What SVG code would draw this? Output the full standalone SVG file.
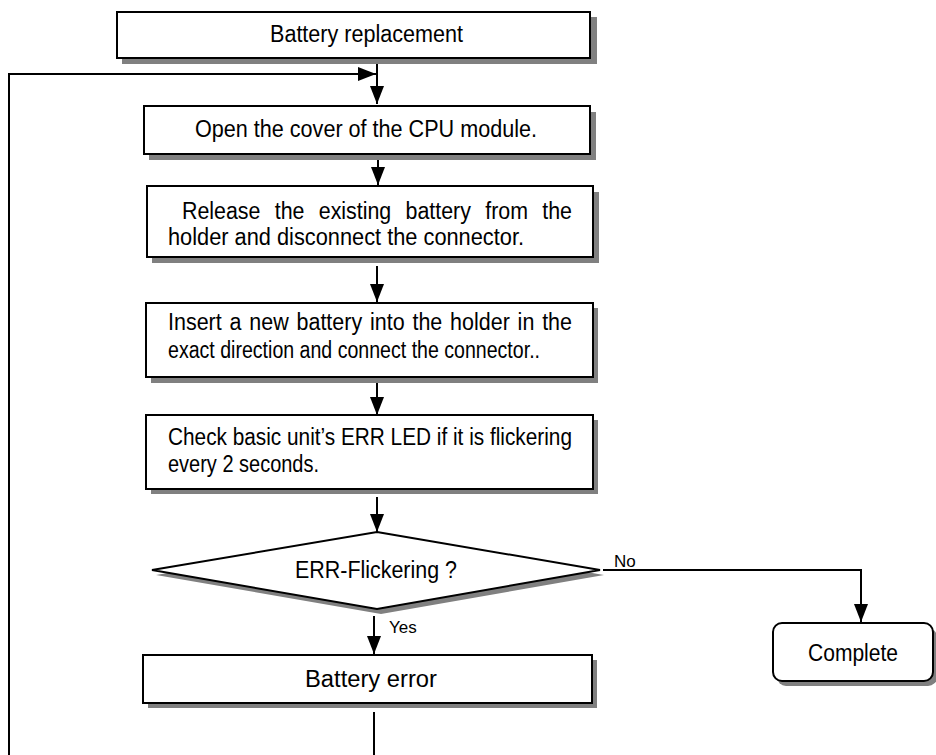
<svg xmlns="http://www.w3.org/2000/svg" width="936" height="755" viewBox="0 0 936 755">
<defs>
<style>
.box{fill:#fff;stroke:#000;stroke-width:2}
.sh{fill:#808080;stroke:none}
.t{font-family:"Liberation Sans",Arial,sans-serif;font-size:23px;fill:#000}
.s{font-family:"Liberation Sans",Arial,sans-serif;font-size:17px;fill:#000}
.ln{fill:none;stroke:#000;stroke-width:2}
</style>
<marker id="ah" viewBox="0 0 18 14" refX="18" refY="7" markerWidth="18" markerHeight="14" orient="auto" markerUnits="userSpaceOnUse"><path d="M0,0 L18,7 L0,14 z" fill="#000"/></marker>
</defs>
<rect width="936" height="755" fill="#fff"/>
<g id="connectors">
<path class="ln" d="M374,712 V760 H9 V74 H376" marker-end="url(#ah)"/>
<path class="ln" d="M377,58 V104" marker-end="url(#ah)"/>
<path class="ln" d="M378,160 V185" marker-end="url(#ah)"/>
<path class="ln" d="M377,266 V302" marker-end="url(#ah)"/>
<path class="ln" d="M377,383 V415" marker-end="url(#ah)"/>
<path class="ln" d="M377,497 V532" marker-end="url(#ah)"/>
<path class="ln" d="M374,616 V654" marker-end="url(#ah)"/>
<path class="ln" d="M603,570 H861 V622" marker-end="url(#ah)"/>
<text class="s" x="614" y="567">No</text>
<text class="s" x="389" y="633">Yes</text>
</g>
<g id="n1">
<rect class="sh" x="122" y="17" width="475" height="47"/>
<rect class="box" x="117" y="12" width="473" height="46"/>
<text class="t" x="270" y="42" textLength="193" lengthAdjust="spacingAndGlyphs">Battery replacement</text>
</g>
<g id="n2">
<rect class="sh" x="149" y="112" width="447" height="48"/>
<rect class="box" x="144" y="106" width="446" height="48"/>
<text class="t" x="195" y="137" textLength="342" lengthAdjust="spacingAndGlyphs">Open the cover of the CPU module.</text>
</g>
<g id="n3">
<rect class="sh" x="152" y="192" width="447" height="71"/>
<rect class="box" x="147" y="186" width="446" height="71"/>
<text class="t" x="182" y="219" textLength="390" lengthAdjust="spacingAndGlyphs" word-spacing="9">Release the existing battery from the</text>
<text class="t" x="168" y="245" textLength="356" lengthAdjust="spacingAndGlyphs">holder and disconnect the connector.</text>
</g>
<g id="n4">
<rect class="sh" x="151" y="308" width="447" height="75"/>
<rect class="box" x="146" y="303" width="447" height="74"/>
<text class="t" x="168" y="330" textLength="404" lengthAdjust="spacingAndGlyphs" word-spacing="2">Insert a new battery into the holder in the</text>
<text class="t" x="168" y="358" textLength="372" lengthAdjust="spacingAndGlyphs">exact direction and connect the connector..</text>
</g>
<g id="n5">
<rect class="sh" x="151" y="420" width="447" height="74"/>
<rect class="box" x="146" y="415" width="447" height="74"/>
<text class="t" x="168" y="445" textLength="404" lengthAdjust="spacingAndGlyphs">Check basic unit’s ERR LED if it is flickering</text>
<text class="t" x="168" y="472" textLength="151" lengthAdjust="spacingAndGlyphs">every 2 seconds.</text>
</g>
<g id="n6">
<polygon class="sh" points="381,537 604,575 381,614 156,575"/>
<polygon class="box" points="377,532 600,570 377,609 152,570"/>
<text class="t" x="295" y="578" textLength="162" lengthAdjust="spacingAndGlyphs">ERR-Flickering ?</text>
</g>
<g id="n7">
<rect class="sh" x="148" y="660" width="449" height="48"/>
<rect class="box" x="143" y="655" width="449" height="48"/>
<text class="t" x="305" y="687" textLength="132" lengthAdjust="spacingAndGlyphs">Battery error</text>
</g>
<g id="n8">
<rect class="sh" x="777" y="628" width="160" height="58" rx="9"/>
<rect class="box" x="773" y="623" width="160" height="58" rx="9"/>
<text class="t" x="808" y="661" textLength="90" lengthAdjust="spacingAndGlyphs">Complete</text>
</g>
</svg>
